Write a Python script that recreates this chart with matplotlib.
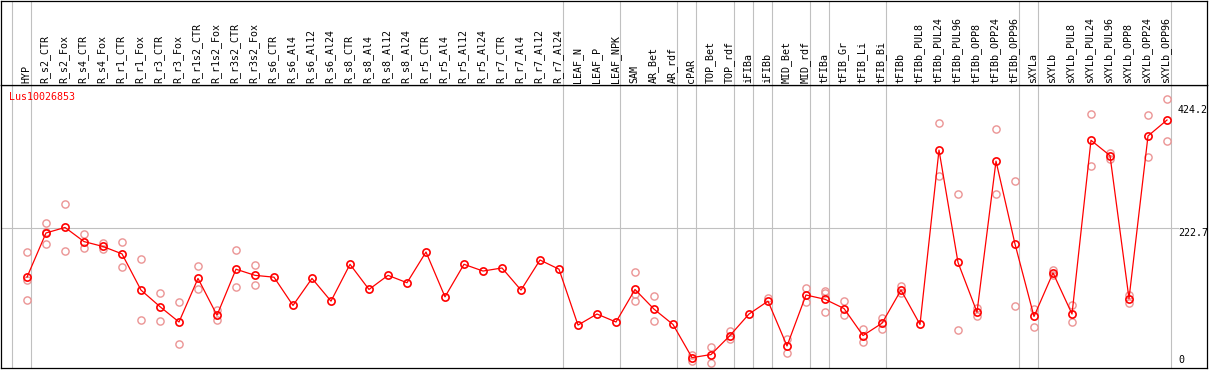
"""Expression profile of Lus10026853 across tissues / treatments (eFP-style strip)."""

import matplotlib
matplotlib.use("Agg")
import matplotlib.pyplot as plt
import matplotlib.transforms as mtransforms

RED = "#ff0000"
PINK = "#eb9494"
GRID = "#c0c0c0"
FONT = "DejaVu Sans Mono"

gene = "Lus10026853"

samples = [
    "HYP", "R_s2_CTR", "R_s2_Fox", "R_s4_CTR", "R_s4_Fox", "R_r1_CTR", "R_r1_Fox",
    "R_r3_CTR", "R_r3_Fox", "R_r1s2_CTR", "R_r1s2_Fox", "R_r3s2_CTR", "R_r3s2_Fox",
    "R_s6_CTR", "R_s6_Al4", "R_s6_Al12", "R_s6_Al24", "R_s8_CTR", "R_s8_Al4",
    "R_s8_Al12", "R_s8_Al24", "R_r5_CTR", "R_r5_Al4", "R_r5_Al12", "R_r5_Al24",
    "R_r7_CTR", "R_r7_Al4", "R_r7_Al12", "R_r7_Al24", "LEAF_N", "LEAF_P", "LEAF_NPK",
    "SAM", "AR_Bet", "AR_rdf", "cPAR", "TOP_Bet", "TOP_rdf", "iFIBa", "iFIBb",
    "MID_Bet", "MID_rdf", "tFIBa", "tFIB_Gr", "tFIB_Li", "tFIB_Bi", "tFIBb",
    "tFIBb_PUL8", "tFIBb_PUL24", "tFIBb_PUL96", "tFIBb_OPP8", "tFIBb_OPP24",
    "tFIBb_OPP96", "sXYLa", "sXYLb", "sXYLb_PUL8", "sXYLb_PUL24", "sXYLb_PUL96",
    "sXYLb_OPP8", "sXYLb_OPP24", "sXYLb_OPP96",
]

means = [
    143, 215, 224, 201, 193, 181, 122, 95, 70, 141, 81, 156, 146,
    143, 97, 141, 104, 164, 123, 146, 134, 184, 111, 164, 153, 158, 122, 171, 156,
    65, 83, 70, 123, 91, 66, 12, 17, 48, 83, 104, 31, 114, 107, 92, 48, 68, 122,
    66, 350, 167, 86, 332, 197, 79, 150, 83, 366, 341, 108, 373, 399,
]

reps = [
    [184, 138, 106], [232, 216, 197], [263, 186], [214, 190], [198, 189],
    [200, 159], [173, 73], [118, 72], [102, 35], [161, 123], [90, 73],
    [187, 127], [163, 131],
    [], [], [], [], [], [], [], [], [], [], [], [], [], [], [], [], [], [], [],
    [151, 115, 104], [112, 72], [], [17, 6], [30, 3], [55, 42], [], [109],
    [42, 20], [125, 102], [121, 117, 86], [105, 81], [58, 38], [77, 59],
    [129, 117], [], [394, 307], [278, 57], [93, 79], [384, 278], [299, 96],
    [92, 62], [154, 146], [97, 70], [408, 324], [346, 336], [114, 101],
    [407, 338], [434, 364],
]

# last sample index of each group (vertical separators)
group_ends = [-1, 0, 28, 31, 34, 35, 37, 38, 39, 41, 42, 45, 52, 53, 60]

y_ticks = [424.2, 222.7, 0]

W, H = 1209, 370
fig = plt.figure(figsize=(W / 100, H / 100), dpi=100)

# pixel layout
left, right = 1, 1207
head_top, head_bot, plot_bot = 0.5, 85, 368

ax = fig.add_axes([left / W, (H - plot_bot) / H, (right - left) / W,
                   (plot_bot - head_bot) / H])
axh = fig.add_axes([left / W, (H - head_bot) / H, (right - left) / W,
                    (head_bot - head_top) / H], sharex=ax)

for a in (ax, axh):
    a.set_xticks([])
    a.set_yticks([])
    for s in a.spines.values():
        s.set_color("black")
        s.set_linewidth(0.9)
    for g in group_ends:
        a.axvline(g + 0.2, color=GRID, linewidth=0.8, zorder=0)

ax.set_xlim(-1.368, 62.105)
ax.set_ylim(-4.9, 456)
axh.set_ylim(0, 1)

# horizontal gridline at the middle tick
ax.axhline(y_ticks[1], xmin=0, xmax=(1178 - left) / (right - left),
           color=GRID, linewidth=0.8, zorder=0)

xs = list(range(len(samples)))
for i, r in enumerate(reps):
    if r:
        ax.plot([i] * len(r), r, "o", ms=5.2, mfc="none", mec=PINK, mew=1.0,
                zorder=2)
ax.plot(xs, means, "-", color=RED, linewidth=0.9, zorder=3)
ax.plot(xs, means, "o", ms=5.2, mfc="none", mec=RED, mew=1.2, zorder=4)

# sample names in the header
for i, name in enumerate(samples):
    axh.text(i - 0.05, 0.025, name, rotation=90, ha="center", va="bottom",
             fontsize=7.2, family=FONT, color="black")

# value labels on the right
lx = (1178 - left) / (right - left)
trans = mtransforms.blended_transform_factory(ax.transAxes, ax.transData)
ax.text(lx, y_ticks[0], f"{y_ticks[0]}", transform=trans, ha="left", va="top",
        fontsize=7.2, family=FONT)
ax.text(lx, y_ticks[1], f"{y_ticks[1]}", transform=trans, ha="left", va="top",
        fontsize=7.2, family=FONT)
ax.text(lx, y_ticks[2], f"{y_ticks[2]}", transform=trans, ha="left",
        va="bottom", fontsize=7.2, family=FONT)

fig.text(9 / W, 1 - 97 / H, gene, color=RED, ha="left", va="center",
         fontsize=7.2, family=FONT)

fig.savefig("out.png", dpi=100)
